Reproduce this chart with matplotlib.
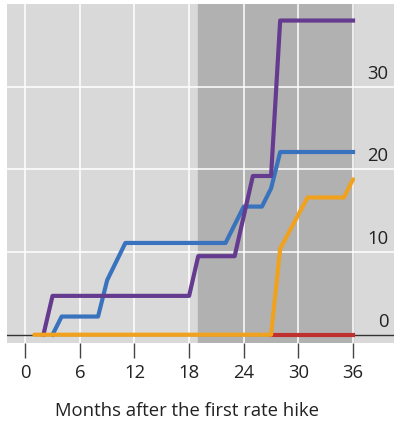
import matplotlib
matplotlib.use("Agg")
import matplotlib.pyplot as plt

plt.rcParams['font.family'] = ['Open Sans', 'DejaVu Sans']

# months after first hike and cumulative values
purple_x = [2, 3, 18, 19, 23, 25, 27, 28, 36]
purple_y = [0, 4.7, 4.7, 9.5, 9.5, 19.2, 19.2, 38, 38]
blue_x = [3, 4, 8, 9, 11, 22, 24, 26, 27, 28, 36]
blue_y = [0, 2.2, 2.2, 6.6, 11.1, 11.1, 15.5, 15.5, 17.7, 22.1, 22.1]
orange_x = [1, 27, 28, 31, 35, 36]
orange_y = [0, 0, 10.4, 16.6, 16.6, 18.8]
red_x = [27, 36]
red_y = [0, 0]

xticks = [0, 6, 12, 18, 24, 30, 36]
yticks = [0, 10, 20, 30]
shade = (19, 36)

fig = plt.figure(figsize=(3.94, 4.22), dpi=100)
ax = fig.add_axes([7 / 394, 79 / 422, 1 - 7 / 394, 339 / 422])
ax.set_facecolor('#d9d9d9')
ax.axvspan(shade[0], shade[1], color='#b1b1b1', zorder=0)

for x in xticks:
    ax.axvline(x, color='white', lw=1.1, zorder=1)
for y in yticks[1:]:
    ax.axhline(y, color='white', lw=1.1, zorder=1)
ax.axhline(0, color='#333333', lw=1, zorder=1.5)

lw = 3
ax.plot(red_x, red_y, color='#c0302e', lw=lw, zorder=2)
ax.plot(blue_x, blue_y, color='#3a73bd', lw=lw, zorder=3)
ax.plot(purple_x, purple_y, color='#653b90', lw=lw, zorder=4)
ax.plot(orange_x, orange_y, color='#f0a21f', lw=lw, zorder=5, solid_capstyle='round')

fs = 13.3
for y in yticks:
    ax.text(39.9, y + 0.5, str(y), ha='right', va='bottom', fontsize=fs, color='#222222')

ax.set_xlim(-2, 40.5)
ax.set_ylim(-1, 40)
ax.set_xticks(xticks)
ax.set_xticklabels([str(x) for x in xticks])
ax.set_yticks([])
ax.tick_params(axis='x', length=11, width=1, color='#444444', labelsize=fs,
               pad=4, labelcolor='#222222')
for s in ax.spines.values():
    s.set_visible(False)

ax.set_xlabel('Months after the first rate hike', fontsize=fs, color='#222222')
ax.xaxis.set_label_coords((187 - 7) / 387, -0.175)

fig.savefig('out.png', dpi=100)
